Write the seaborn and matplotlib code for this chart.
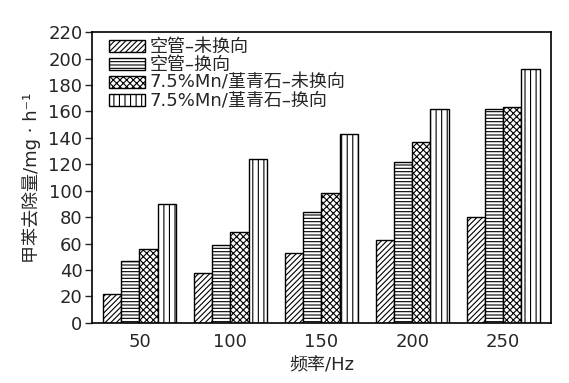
import pandas as pd
import matplotlib
matplotlib.use("Agg")
import matplotlib.pyplot as plt
import seaborn as sns

freqs = ["50", "100", "150", "200", "250"]
series = ["空管–未换向", "空管–换向", "7.5%Mn/堇青石–未换向", "7.5%Mn/堇青石–换向"]
empty_fixed = [22, 38, 53, 63, 80]
empty_switch = [47, 59, 84, 122, 162]
mn_fixed = [56, 69, 98, 137, 163]
mn_switch = [90, 124, 143, 162, 192]
hatches = ["//////", "-----", "xxxxx", "|||"]

rows = []
for name, vals in zip(series, [empty_fixed, empty_switch, mn_fixed, mn_switch]):
    for f, v in zip(freqs, vals):
        rows.append({"freq": f, "series": name, "value": v})
df = pd.DataFrame(rows)

sns.set_style("ticks")
plt.rcParams["font.family"] = ["DejaVu Sans", "Noto Sans CJK SC"]
plt.rcParams["hatch.linewidth"] = 0.8

fig, ax = plt.subplots(figsize=(5.69, 3.83), dpi=100)
sns.barplot(data=df, x="freq", y="value", hue="series", order=freqs,
            hue_order=series, width=0.8, palette=["white"] * 4,
            edgecolor="black", linewidth=1.0, legend=False, ax=ax)

for cont, h in zip(ax.containers, hatches):
    for p in cont.patches:
        p.set_hatch(h)
        p.set_facecolor("white")
        p.set_edgecolor("black")

handles = [c.patches[0] for c in ax.containers]
ax.legend(handles, series, loc="upper left", frameon=False, fontsize=13,
          handlelength=2.0, handleheight=0.65, labelspacing=0.0,
          handletextpad=0.25, borderaxespad=0.0, bbox_to_anchor=(0.02, 1.005))

ax.set_xlim(-0.52, 4.53)
ax.set_ylim(0, 220)
ax.set_yticks(range(0, 221, 20))
ax.tick_params(axis="x", length=0, labelsize=13, pad=7)
ax.tick_params(axis="y", direction="out", length=5, labelsize=13, width=1, pad=2)
for s in ax.spines.values():
    s.set_visible(True)
    s.set_linewidth(1.2)
    s.set_color("black")

ax.set_xlabel("频率/Hz", fontsize=13, labelpad=4)
ax.set_ylabel("甲苯去除量/mg · h⁻¹", fontsize=13, labelpad=5)

fig.subplots_adjust(left=0.162, right=0.969, top=0.916, bottom=0.157)
fig.savefig("out.png", dpi=100)
